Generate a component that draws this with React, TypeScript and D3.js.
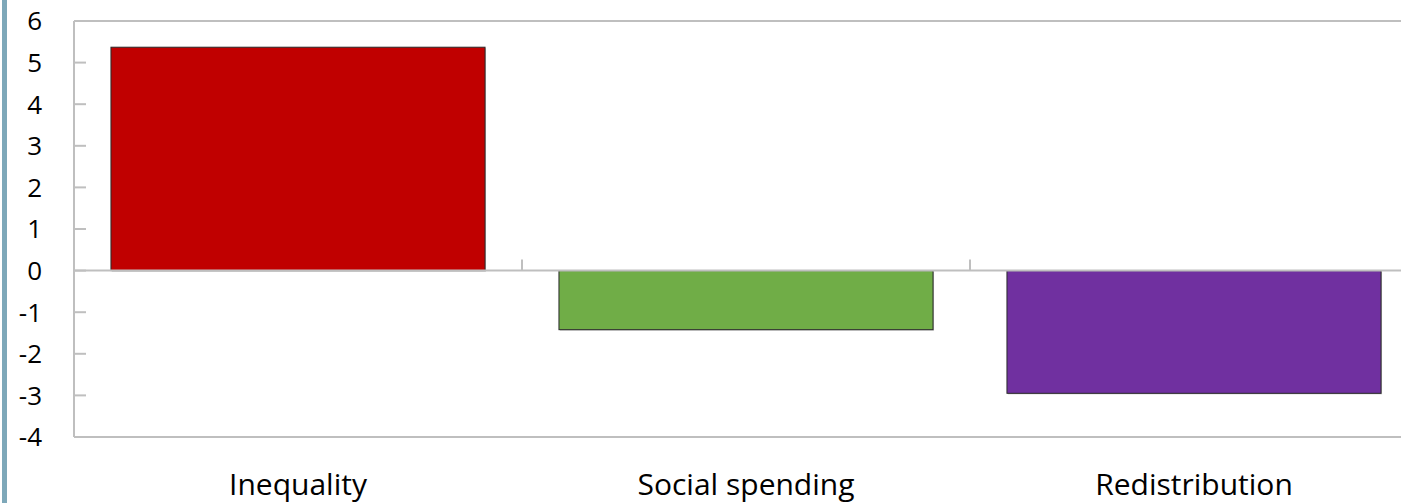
import React from "react";
import * as d3 from "d3";

const categories = ["Inequality", "Social spending", "Redistribution"];
const values = [5.37, -1.42, -2.95];
const barColors = ["#c00000", "#70ad47", "#7030a0"];
const yTicks = [6, 5, 4, 3, 2, 1, 0, -1, -2, -3, -4];

const W = 1401;
const H = 503;

export default function App() {
  const left = 74;
  const step = 448;
  const x = d3
    .scaleBand<string>()
    .domain(categories)
    .range([left, left + step * categories.length])
    .paddingInner(0.165)
    .paddingOuter(0.0825);
  const y = d3.scaleLinear().domain([-4, 6]).range([437, 21]);
  const axisColor = "#bfbfbf";
  const font = "'Open Sans', 'Noto Sans', sans-serif";

  return (
    <svg
      width={W}
      height={H}
      style={{ position: "absolute", left: 0, top: 0, background: "#fff" }}
    >
      <rect x={2} y={0} width={5} height={H} fill="#7ea8b9" />
      {/* plot borders */}
      <line x1={left} x2={W} y1={y(6)} y2={y(6)} stroke={axisColor} strokeWidth={2} />
      <line x1={left} x2={W} y1={y(-4)} y2={y(-4)} stroke={axisColor} strokeWidth={2} />
      {/* bars */}
      {categories.map((c, i) => {
        const v = values[i];
        const x0 = x(c)!;
        const y0 = Math.min(y(v), y(0));
        const h = Math.abs(y(v) - y(0));
        return (
          <g key={c}>
            <rect x={x0 + 1} y={y0 + 1} width={x.bandwidth()} height={h} fill="#a0a0a0" opacity={0.6} />
            <rect x={x0} y={y0} width={x.bandwidth()} height={h} fill={barColors[i]} stroke="#2a2a2a" strokeWidth={1} />
          </g>
        );
      })}
      {/* y axis */}
      <line x1={left} x2={left} y1={y(6)} y2={y(-4)} stroke={axisColor} strokeWidth={2} />
      {yTicks.map((t) => (
        <g key={t}>
          <line x1={left} x2={left + 12} y1={y(t)} y2={y(t)} stroke={axisColor} strokeWidth={2} />
          <text
            x={42}
            y={y(t)}
            dy="0.36em"
            textAnchor="end"
            fontFamily={font}
            fontSize={26}
            fill="#000"
          >
            {t}
          </text>
        </g>
      ))}
      {/* zero line */}
      <line x1={left} x2={W} y1={y(0)} y2={y(0)} stroke={axisColor} strokeWidth={2} />
      {categories.slice(1).map((c) => {
        const xt = x(c)! - (x.step() - x.bandwidth()) / 2;
        return <line key={c} x1={xt} x2={xt} y1={y(0)} y2={y(0) - 11} stroke={axisColor} strokeWidth={2} />;
      })}
      {categories.map((c) => (
        <text
          key={c}
          x={x(c)! + x.bandwidth() / 2}
          y={495}
          textAnchor="middle"
          fontFamily={font}
          fontSize={30}
          fill="#000"
        >
          {c}
        </text>
      ))}
    </svg>
  );
}
